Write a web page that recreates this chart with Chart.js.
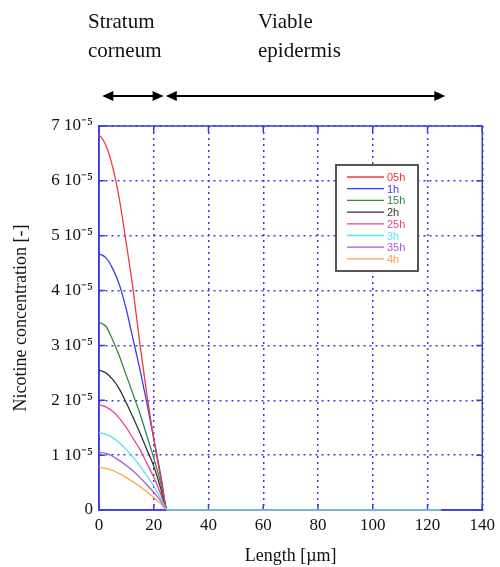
<!DOCTYPE html>
<html>
<head>
<meta charset="utf-8">
<script src="https://cdn.jsdelivr.net/npm/chart.js@4"></script>
<style>
  body { margin: 0; background: #fff; }
  #wrap { width: 500px; height: 567px; }
</style>
</head>
<body>
<div id="wrap"><canvas id="nicotineChart" width="500" height="567"></canvas></div>
<script>
// depth positions [µm]
const depth = [0, 2.5, 5, 7.5, 10, 12.5, 15, 17.5, 20, 22.5, 25, 125]
// concentration, in units of 1e-5
const c05h = [6.85, 6.65, 6.25, 5.65, 4.85, 4.0, 3.0, 2.1, 1.3, 0.6, 0, 0]
const c1h = [4.67, 4.6, 4.4, 4.1, 3.65, 3.1, 2.55, 1.95, 1.3, 0.65, 0, 0]
const c15h = [3.42, 3.35, 3.1, 2.8, 2.45, 2.1, 1.75, 1.35, 0.95, 0.5, 0, 0]
const c2h = [2.55, 2.5, 2.38, 2.2, 1.95, 1.68, 1.4, 1.1, 0.8, 0.4, 0, 0]
const c25h = [1.92, 1.88, 1.8, 1.67, 1.5, 1.3, 1.1, 0.85, 0.6, 0.3, 0, 0]
const c3h = [1.41, 1.38, 1.32, 1.22, 1.1, 0.96, 0.8, 0.62, 0.44, 0.22, 0, 0]
const c35h = [1.05, 1.03, 0.98, 0.9, 0.81, 0.71, 0.59, 0.46, 0.32, 0.17, 0, 0]
const c4h = [0.78, 0.76, 0.72, 0.66, 0.59, 0.51, 0.43, 0.33, 0.23, 0.12, 0, 0]
const seriesLabels = ['05h', '1h', '15h', '2h', '25h', '3h', '35h', '4h']
const seriesData = [c05h, c1h, c15h, c2h, c25h, c3h, c35h, c4h]
const colors = ['#ee3a3a', '#3a3aee', '#2f8a45', '#333333', '#e8409a', '#5ce0f0', '#a855e0', '#ffa24a']

const gridBlue = '#3d3ddc'
const serif = "'Liberation Serif', 'Times New Roman', serif"

const frame = {
    id: 'frame',
    beforeDatasetsDraw(chart) {
        const { ctx, chartArea: a, scales: { x, y } } = chart
        ctx.save()
        // plot frame + inward ticks, under the curves
        ctx.strokeStyle = gridBlue
        ctx.lineWidth = 1.5
        ctx.strokeRect(a.left, a.top, a.right - a.left, a.bottom - a.top)
        ctx.beginPath()
        x.ticks.forEach(t => {
            const px = x.getPixelForValue(t.value)
            ctx.moveTo(px, a.bottom); ctx.lineTo(px, a.bottom - 6)
            ctx.moveTo(px, a.top); ctx.lineTo(px, a.top + 6)
        })
        y.ticks.forEach(t => {
            const py = y.getPixelForValue(t.value)
            ctx.moveTo(a.left, py); ctx.lineTo(a.left + 6, py)
            ctx.moveTo(a.right, py); ctx.lineTo(a.right - 6, py)
        })
        ctx.stroke()
        ctx.restore()
    },
    afterDraw(chart) {
        const { ctx, scales: { x } } = chart
        ctx.save()
        // layer labels and arrows
        ctx.fillStyle = '#111'
        ctx.font = '21px ' + serif
        ctx.textAlign = 'left'
        ctx.textBaseline = 'alphabetic'
        ctx.fillText('Stratum', 88, 28)
        ctx.fillText('corneum', 88, 57)
        ctx.fillText('Viable', 258, 28)
        ctx.fillText('epidermis', 258, 57)

        const arrow = (from, to) => {
            const x1 = x.getPixelForValue(from), x2 = x.getPixelForValue(to), ay = 96
            ctx.strokeStyle = '#000'
            ctx.lineWidth = 2
            ctx.beginPath(); ctx.moveTo(x1 + 6, ay); ctx.lineTo(x2 - 6, ay); ctx.stroke()
            ctx.fillStyle = '#000'
            ctx.beginPath(); ctx.moveTo(x1, ay); ctx.lineTo(x1 + 11, ay - 5); ctx.lineTo(x1 + 11, ay + 5); ctx.fill()
            ctx.beginPath(); ctx.moveTo(x2, ay); ctx.lineTo(x2 - 11, ay - 5); ctx.lineTo(x2 - 11, ay + 5); ctx.fill()
        }
        arrow(1.2, 23.6)
        arrow(24.4, 126.5)

        // legend box
        const lx = 336, ly = 165, lw = 82, lh = 106
        ctx.fillStyle = '#fff'
        ctx.fillRect(lx, ly, lw, lh)
        ctx.strokeStyle = '#555'
        ctx.lineWidth = 2
        ctx.strokeRect(lx, ly, lw, lh)
        ctx.font = '11px Arial, Liberation Sans, sans-serif'
        ctx.textBaseline = 'middle'
        seriesLabels.forEach((lab, i) => {
            const ry = ly + 12 + i * 11.7
            ctx.strokeStyle = colors[i]
            ctx.lineWidth = 1.3
            ctx.beginPath(); ctx.moveTo(lx + 11, ry); ctx.lineTo(lx + 48, ry); ctx.stroke()
            ctx.fillStyle = colors[i]
            ctx.fillText(lab, lx + 51, ry + 1)
        })
        ctx.restore()
    }
}

new Chart(document.getElementById('nicotineChart').getContext('2d'), {
    type: 'line',
    data: {
        datasets: seriesData.map((vals, i) => ({
            label: seriesLabels[i],
            data: vals.map((v, j) => ({ x: depth[j], y: v })),
            borderColor: colors[i],
            borderWidth: 1.3,
            pointRadius: 0,
            cubicInterpolationMode: 'monotone',
            fill: false,
            clip: 3,
            order: seriesLabels[i] === '3h' ? -1 : 0
        }))
    },
    options: {
        responsive: false,
        animation: false,
        layout: { padding: { left: 0, top: 126, right: 15, bottom: 0 } },
        plugins: { legend: { display: false }, tooltip: { enabled: false } },
        scales: {
            x: {
                type: 'linear',
                min: 0, max: 140,
                afterFit: s => { s.height = 57 },
                ticks: { stepSize: 20, color: '#111', padding: 5, font: { family: serif, size: 17 } },
                grid: { color: gridBlue, lineWidth: 1.5, drawTicks: false },
                border: { color: gridBlue, width: 1.5, dash: [2, 4] },
                title: { display: true, text: 'Length [µm]', color: '#111', padding: { top: 8, bottom: 0 }, font: { family: serif, size: 18 } }
            },
            y: {
                min: 0, max: 7,
                afterFit: s => { s.width = 99 },
                ticks: {
                    stepSize: 1, color: '#111', padding: 6,
                    font: { family: serif, size: 17 },
                    callback: v => v === 0 ? '0' : v + ' 10⁻⁵'
                },
                grid: { color: gridBlue, lineWidth: 1.5, drawTicks: false },
                border: { color: gridBlue, width: 1.5, dash: [2, 4] },
                title: { display: true, text: 'Nicotine concentration [-]', color: '#111', padding: { top: 10, bottom: 0 }, font: { family: serif, size: 18 } }
            }
        }
    },
    plugins: [frame]
})
</script>
</body>
</html>
